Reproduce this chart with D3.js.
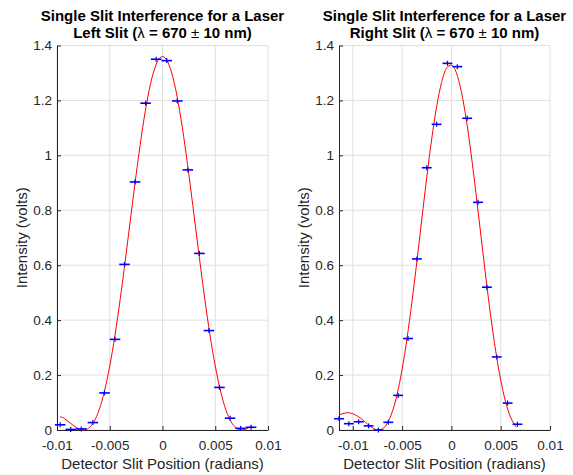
<!DOCTYPE html>
<html>
<head>
<meta charset="utf-8">
<script src="https://cdn.jsdelivr.net/npm/d3@7"></script>
<style>
  body { margin: 0; background: #fff; }
  svg text { font-family: "Liberation Sans", Arial, Helvetica, sans-serif; }
</style>
</head>
<body>
<script>
// chart size
var w = 573,
    h = 475;

// tick values shared by both panels
var yTicks = [0, 0.2, 0.4, 0.6, 0.8, 1, 1.2, 1.4];
var xTicks = [-0.01, -0.005, 0, 0.005, 0.01];
var xTickLabels = ["-0.01", "-0.005", "0", "0.005", "0.01"];

// horizontal uncertainty on detector position (radians)
var xErr = 0.0005;

// left slit measurements
var leftX = [-0.0097, -0.0087, -0.0077, -0.0066, -0.0055, -0.0045, -0.0036, -0.0026, -0.0016, -0.0006,
             0.0004, 0.0014, 0.0024, 0.0035, 0.0044, 0.0054, 0.0064, 0.0074, 0.0084];
var leftY = [0.019, 0.002, 0.004, 0.027, 0.135, 0.330, 0.603, 0.903, 1.190, 1.350,
             1.345, 1.198, 0.947, 0.643, 0.362, 0.155, 0.043, 0.006, 0.010];

// left slit fit curve
var leftFitX = [-0.0097, -0.0095, -0.009, -0.0085, -0.008, -0.0075, -0.007, -0.0065, -0.006, -0.0055,
                -0.005, -0.0045, -0.004, -0.0035, -0.003, -0.0025, -0.002, -0.0015, -0.001, -0.0005,
                0, 0.0005, 0.001, 0.0015, 0.002, 0.0025, 0.003, 0.0035, 0.004, 0.0045,
                0.005, 0.0055, 0.006, 0.0065, 0.007, 0.0075, 0.008, 0.0084];
var leftFitY = [0.048, 0.046, 0.033, 0.018, 0.005, 0.000, 0.007, 0.030, 0.074, 0.142,
                0.233, 0.346, 0.479, 0.626, 0.779, 0.930, 1.070, 1.190, 1.282, 1.340,
                1.360, 1.340, 1.282, 1.190, 1.070, 0.930, 0.779, 0.626, 0.479, 0.346,
                0.233, 0.142, 0.074, 0.030, 0.007, 0.000, 0.005, 0.015];

// right slit measurements
var rightX = [-0.0114, -0.0104, -0.0094, -0.0084, -0.0074, -0.0064, -0.0054, -0.0044, -0.0035, -0.0025,
              -0.0015, -0.0004, 0.0006, 0.0016, 0.0027, 0.0036, 0.0046, 0.0057, 0.0067];
var rightY = [0.041, 0.023, 0.030, 0.015, 0.000, 0.028, 0.126, 0.333, 0.623, 0.955,
              1.113, 1.335, 1.323, 1.135, 0.829, 0.520, 0.266, 0.098, 0.021];

// right slit fit curve
var rightFitX = [-0.0114, -0.011, -0.0105, -0.01, -0.0095, -0.009, -0.0085, -0.008, -0.0075, -0.007,
                 -0.0065, -0.006, -0.0055, -0.005, -0.0045, -0.004, -0.0035, -0.003, -0.0025, -0.002,
                 -0.0015, -0.001, -0.0005, 0, 0.0005, 0.001, 0.0015, 0.002, 0.0025, 0.003,
                 0.0035, 0.004, 0.0045, 0.005, 0.0055, 0.006, 0.0066];
var rightFitY = [0.055, 0.060, 0.063, 0.059, 0.050, 0.037, 0.021, 0.008, 0.000, 0.004,
                 0.025, 0.066, 0.131, 0.221, 0.334, 0.467, 0.614, 0.768, 0.920, 1.059,
                 1.177, 1.265, 1.317, 1.329, 1.301, 1.233, 1.133, 1.005, 0.859, 0.706,
                 0.554, 0.411, 0.286, 0.182, 0.102, 0.047, 0.010];

var plotTop = 45.5,
    plotBottom = 430,
    pw = 211,
    ph = plotBottom - plotTop;

var axisColor = "#262626",
    gridColor = "#e0e0e0";

var svg = d3.select("body").append("svg")
    .attr("width", w)
    .attr("height", h);

function drawPanel(p) {
  var g = svg.append("g")
      .attr("transform", "translate(" + p.left + "," + plotTop + ")");

  var xScale = d3.scaleLinear().domain(p.xDomain).range([0, pw]);
  var yScale = d3.scaleLinear().domain([0, 1.4]).range([ph, 0]);

  // grid
  g.append("g").selectAll("line")
    .data(xTicks)
    .enter().append("line")
      .attr("x1", function(d) { return xScale(d); })
      .attr("x2", function(d) { return xScale(d); })
      .attr("y1", 0)
      .attr("y2", ph)
      .attr("stroke", gridColor);
  g.append("g").selectAll("line")
    .data(yTicks)
    .enter().append("line")
      .attr("x1", 0)
      .attr("x2", pw)
      .attr("y1", function(d) { return yScale(d); })
      .attr("y2", function(d) { return yScale(d); })
      .attr("stroke", gridColor);

  // axes, ticks pointing inward
  var xAxis = g.append("g")
      .attr("transform", "translate(0," + ph + ")")
      .call(d3.axisBottom(xScale)
        .tickValues(xTicks)
        .tickFormat(function(d, i) { return xTickLabels[i]; })
        .tickSizeInner(-4)
        .tickSizeOuter(0)
        .tickPadding(10));
  var yAxis = g.append("g")
      .call(d3.axisLeft(yScale)
        .tickValues(yTicks)
        .tickFormat(d3.format("~g"))
        .tickSizeInner(-4)
        .tickSizeOuter(0)
        .tickPadding(5));

  [xAxis, yAxis].forEach(function(a) {
    a.select(".domain").attr("stroke", axisColor);
    a.selectAll(".tick line").attr("stroke", axisColor);
    a.selectAll(".tick text")
      .attr("fill", axisColor)
      .style("font-size", "13.5px");
  });

  // fit curve
  var line = d3.line()
      .x(function(d) { return xScale(d[0]); })
      .y(function(d) { return yScale(d[1]); })
      .curve(d3.curveMonotoneX);

  g.append("path")
      .attr("d", line(d3.zip(p.fitX, p.fitY)))
      .attr("fill", "none")
      .attr("stroke", "#ff0000")
      .attr("stroke-width", 1);

  // horizontal error bars
  var pts = g.append("g").selectAll(".pt")
    .data(d3.zip(p.x, p.y))
    .enter().append("g")
      .attr("class", "pt");

  pts.append("line")
      .attr("x1", function(d) { return xScale(d[0] - xErr); })
      .attr("x2", function(d) { return xScale(d[0] + xErr); })
      .attr("y1", function(d) { return yScale(d[1]); })
      .attr("y2", function(d) { return yScale(d[1]); })
      .attr("stroke", "#0000ff")
      .attr("stroke-width", 1.6);
  pts.append("line")
      .attr("x1", function(d) { return xScale(d[0]); })
      .attr("x2", function(d) { return xScale(d[0]); })
      .attr("y1", function(d) { return yScale(d[1]) - 2.5; })
      .attr("y2", function(d) { return yScale(d[1]) + 2.5; })
      .attr("stroke", "#0000ff")
      .attr("stroke-width", 1.2);

  // title
  var title = svg.append("text")
      .attr("x", p.left + pw / 2)
      .attr("y", 21)
      .attr("text-anchor", "middle")
      .attr("fill", "#000")
      .style("font-size", "15px")
      .style("font-weight", "bold");
  title.append("tspan")
      .attr("x", p.left + pw / 2)
      .text("Single Slit Interference for a Laser");
  var t2 = title.append("tspan")
      .attr("x", p.left + pw / 2)
      .attr("dy", 17);
  t2.append("tspan").text(p.slit + " Slit (");
  t2.append("tspan").style("font-weight", "normal").text("λ");
  t2.append("tspan").text(" = 670 ");
  t2.append("tspan").style("font-weight", "normal").text("±");
  t2.append("tspan").text(" 10 nm)");

  // axis labels
  svg.append("text")
      .attr("x", p.left + pw / 2)
      .attr("y", 469)
      .attr("text-anchor", "middle")
      .attr("fill", axisColor)
      .style("font-size", "15px")
      .text("Detector Slit Position (radians)");

  svg.append("text")
      .attr("transform", "translate(" + (p.left - 30) + "," + (plotTop + ph / 2) + ") rotate(-90)")
      .attr("text-anchor", "middle")
      .attr("fill", axisColor)
      .style("font-size", "15px")
      .text("Intensity (volts)");
}

drawPanel({left: 57, xDomain: [-0.01, 0.01], x: leftX, y: leftY,
           fitX: leftFitX, fitY: leftFitY, slit: "Left"});
drawPanel({left: 339, xDomain: [-0.0114, 0.01], x: rightX, y: rightY,
           fitX: rightFitX, fitY: rightFitY, slit: "Right"});
</script>
</body>
</html>
